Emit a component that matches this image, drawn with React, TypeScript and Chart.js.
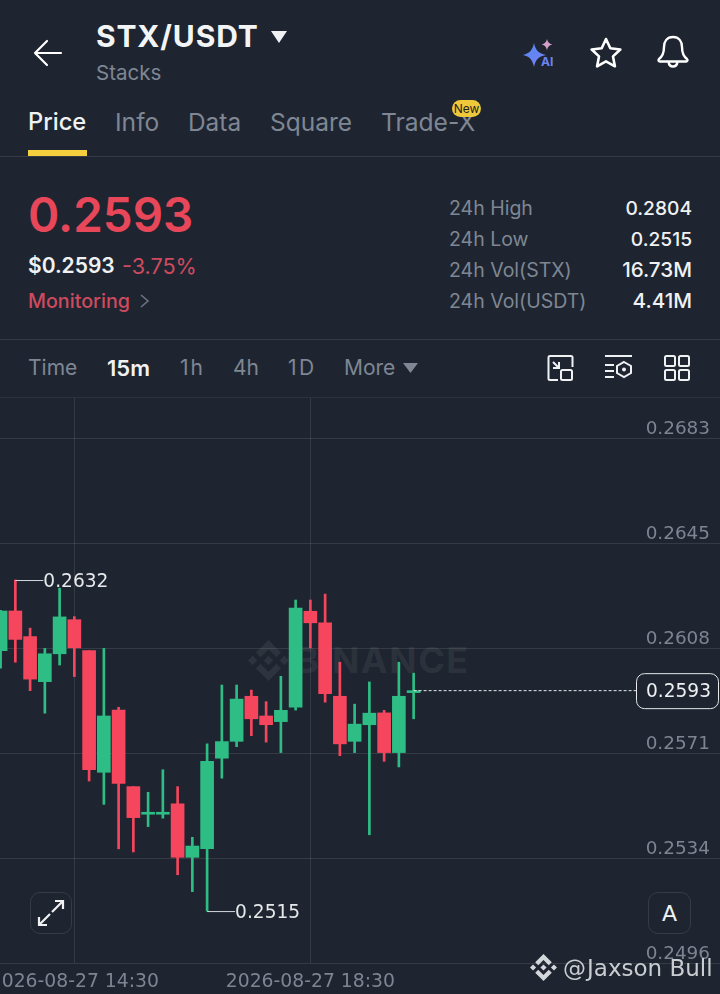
import React, { useEffect, useRef } from "react";
import { Chart, registerables } from "chart.js";

Chart.register(...registerables);

const opens = [0.26072,0.26213,0.26122,0.25962,0.26061,0.26182,0.26072,0.2564,0.25861,0.25589,0.25491,0.25491,0.25528,0.25338,0.25369,0.2569,0.2575,0.2591,0.2584,0.2582,0.25871,0.26212,0.26171,0.2591,0.2575,0.25809,0.25851,0.2571,0.25923];
const highs = [0.26215,0.26323,0.26152,0.2608,0.26294,0.26193,0.26072,0.2608,0.25871,0.25589,0.25569,0.25649,0.25589,0.25409,0.25741,0.2595,0.2595,0.25932,0.25891,0.25981,0.26252,0.26252,0.26273,0.26031,0.25882,0.25961,0.2586,0.26031,0.25992];
const lows = [0.2601,0.26031,0.2593,0.2585,0.26021,0.2598,0.25609,0.25526,0.25368,0.25357,0.25447,0.25477,0.25276,0.25216,0.25147,0.25619,0.25731,0.2577,0.25747,0.2571,0.25861,0.26082,0.25889,0.25699,0.2571,0.25418,0.25679,0.25659,0.2583];
const closes = [0.26213,0.26112,0.25971,0.26061,0.26192,0.26082,0.25649,0.2584,0.256,0.25479,0.25498,0.25498,0.25338,0.25378,0.25679,0.25749,0.259,0.2583,0.25809,0.2586,0.26223,0.26171,0.25919,0.25741,0.25811,0.2585,0.2571,0.2591,0.2593];

const yTickValues = [0.268275, 0.264545, 0.260815, 0.257085, 0.253355, 0.249625];
const xTickPositions = [5, 21];
const xTickLabels = ["2026-08-27 14:30", "2026-08-27 18:30"];
const lastPrice = 0.2593;

const GREEN = "#2ebd85";
const RED = "#f6465d";
const BG = "#1e2530";
const GRID = "rgba(255,255,255,0.10)";
const AXIS_TEXT = "#7d8592";
const UI = "Inter, 'Noto Sans', sans-serif";
const AXIS_FONT = "'DejaVu Sans'";
const MUTED = "#7f8794";
const SOFT_RED = "#cf4a5f";

const annotations = {
  id: "annotations",
  afterDatasetsDraw(chart: any) {
    const { ctx, scales } = chart;
    const xs = scales.x;
    const ys = scales.y;
    ctx.save();
    ctx.font = `18.6px ${AXIS_FONT}`;
    ctx.textBaseline = "middle";
    const hi = Math.max(...highs);
    const lo = Math.min(...lows);
    const marks = [
      { v: hi, i: highs.indexOf(hi) },
      { v: lo, i: lows.indexOf(lo) },
    ];
    for (const m of marks) {
      const px = xs.getPixelForValue(m.i);
      const py = ys.getPixelForValue(m.v);
      ctx.strokeStyle = "#d5d8dc";
      ctx.lineWidth = 1;
      ctx.beginPath();
      ctx.moveTo(px, py + 0.5);
      ctx.lineTo(px + 28, py + 0.5);
      ctx.stroke();
      ctx.fillStyle = "#e6e8ea";
      ctx.textAlign = "left";
      ctx.fillText(m.v.toFixed(4), px + 28, py + 2.5);
    }
    const py = ys.getPixelForValue(lastPrice);
    const x0 = xs.getPixelForValue(closes.length - 1);
    ctx.strokeStyle = "#e6e8ea";
    ctx.setLineDash([3, 2]);
    ctx.beginPath();
    ctx.moveTo(x0, py);
    ctx.lineTo(636, py);
    ctx.stroke();
    ctx.setLineDash([]);
    ctx.fillStyle = BG;
    ctx.strokeStyle = "#e6e8ea";
    ctx.beginPath();
    ctx.roundRect(636.5, py - 17, 82, 35, 8);
    ctx.fill();
    ctx.stroke();
    ctx.fillStyle = "#eef0f2";
    ctx.textAlign = "right";
    ctx.fillText(lastPrice.toFixed(4), 711, py + 2);
    ctx.restore();
  },
};

function T({ x, y, size, color, weight = 400, right, font = UI, spacing, children }: any) {
  const style: React.CSSProperties = {
    position: "absolute",
    top: y - 40,
    lineHeight: "80px",
    fontSize: size,
    fontWeight: weight,
    fontFamily: font,
    color,
    whiteSpace: "nowrap",
    letterSpacing: spacing,
  };
  if (right) style.right = 720 - x;
  else style.left = x;
  return <div style={style}>{children}</div>;
}

function Svg({ x, y, w, h, vb, children }: any) {
  return (
    <svg
      style={{ position: "absolute", left: x, top: y }}
      width={w}
      height={h}
      viewBox={vb || `0 0 ${w} ${h}`}
      fill="none"
    >
      {children}
    </svg>
  );
}

const LOGO =
  "M9.785 13.446 16 7.231l6.217 6.217 3.616-3.616L16 0 6.169 9.83l3.616 3.616zM0 16l3.616-3.617L7.232 16l-3.617 3.616L0 16zm9.785 2.554L16 24.769l6.217-6.217 3.618 3.613-.002.002L16 32l-9.83-9.83-.005-.005 3.62-3.611zM24.769 16.002l3.616-3.617L32 16l-3.616 3.616-3.615-3.614zM19.667 15.998h.001V16L16 19.668l-3.663-3.663-.006-.006.006-.005.641-.642.312-.312L16 12.333l3.668 3.665z";

function Rule({ y, color = "#353b46" }: any) {
  return <div style={{ position: "absolute", left: 0, top: y, width: 720, height: 1, background: color }} />;
}

export default function App() {
  const ref = useRef<HTMLCanvasElement>(null);
  useEffect(() => {
    document.body.style.margin = "0";
    document.body.style.background = BG;
    const idx = opens.map((_, i) => i);
    const colors = idx.map((i) => (closes[i] >= opens[i] ? GREEN : RED));
    const chart = new Chart(ref.current as HTMLCanvasElement, {
      type: "bar",
      data: {
        datasets: [
          {
            label: "Body",
            data: idx.map((i) => ({ x: i, y: [opens[i], closes[i]] })) as any,
            backgroundColor: colors,
            barThickness: 13,
            grouped: false,
            borderWidth: 0,
          } as any,
          {
            label: "Wick",
            data: idx.map((i) => ({ x: i, y: [lows[i], highs[i]] })) as any,
            backgroundColor: colors,
            barThickness: 2,
            grouped: false,
            borderWidth: 0,
          } as any,
        ],
      },
      plugins: [annotations],
      options: {
        animation: false,
        responsive: false,
        layout: { padding: 0 },
        plugins: { legend: { display: false }, tooltip: { enabled: false } },
        scales: {
          x: {
            type: "linear",
            offset: false,
            min: -0.0407,
            max: 48.77,
            border: { display: false },
            grid: { color: GRID, offset: false, drawTicks: false },
            afterBuildTicks(s: any) {
              s.ticks = xTickPositions.map((value) => ({ value }));
            },
            afterFit(s: any) {
              s.height = 31;
              s.paddingLeft = 0;
              s.paddingRight = 0;
            },
            ticks: {
              autoSkip: false,
              maxRotation: 0,
              padding: 8,
              color: AXIS_TEXT,
              font: { family: AXIS_FONT, size: 18.8 },
              callback: (v: any) => xTickLabels[xTickPositions.indexOf(Number(v))] ?? "",
            },
          },
          y: {
            type: "linear",
            position: "right",
            min: 0.249625,
            max: 0.269696,
            border: { display: false },
            grid: { color: GRID, drawTicks: false },
            afterBuildTicks(s: any) {
              s.ticks = yTickValues.map((value) => ({ value }));
            },
            afterFit(s: any) {
              s.width = 0;
              s.paddingTop = 0;
              s.paddingBottom = 0;
            },
            ticks: {
              mirror: true,
              padding: -10,
              color: AXIS_TEXT,
              font: { family: AXIS_FONT, size: 18.4, lineHeight: 1 },
              callback: (v: any) => [Number(v).toFixed(4), ""],
            },
          },
        },
      },
    } as any);
    return () => chart.destroy();
  }, []);

  return (
    <div style={{ position: "absolute", left: 0, top: 0, width: 720, height: 994, background: BG, overflow: "hidden" }}>
      <Svg x={32} y={38} w={32} h={30}>
        <path d="M29 15H3M15 3 3 15l12 12" stroke="#fff" strokeWidth="2.200" strokeLinecap="round" strokeLinejoin="round" />
      </Svg>
      <T x={96} y={36} size={30} weight={700} color="#f3f4f6" spacing={0.85}>STX/USDT</T>
      <Svg x={270} y={30} w={18} h={14}><path d="M1 1h16l-8 12z" fill="#f0f1f3" /></Svg>
      <T x={96} y={73} size={20.5} color={MUTED}>Stacks</T>

      <Svg x={522} y={38} w={34} h={30}>
        <defs>
          <linearGradient id="ai" x1="0" y1="0" x2="1" y2="1">
            <stop offset="0" stopColor="#4f8df5" />
            <stop offset="1" stopColor="#7b7cf0" />
          </linearGradient>
        </defs>
        <path d="M12 5c1.500 7 4 10 12 12-8 1.500-10.500 5-12 12-1.500-7-4-10.500-11-12 7-2 9.500-5 11-12z" fill="url(#ai)" />
        <path d="M25 1c.6 3 2 4.600 5.500 5.500C27 7.400 25.600 9 25 12.500 24.400 9 23 7.400 19.500 6.500 23 5.600 24.400 4 25 1z" fill="#d5a0c8" />
        <text x="19" y="28" fontSize="12" fontWeight="700" fontFamily="Inter" fill="#6d84f0">AI</text>
      </Svg>
      <Svg x={589} y={36} w={34} h={32}>
        <path d="M17 3l4.300 9.200 10 1.300-7.300 6.900 1.900 9.900L17 25.400 8.100 30.300 10 20.400 2.700 13.500l10-1.300z" stroke="#fff" strokeWidth="2.600" strokeLinejoin="round" />
      </Svg>
      <Svg x={656} y={34} w={34} h={36}>
        <path d="M17 3c-6 0-9 4.500-9 10 0 6-1 9-5 12-1 1-.5 2.500 1 2.500h26c1.500 0 2-1.500 1-2.500-4-3-5-6-5-12 0-5.500-3-10-9-10z" stroke="#fff" strokeWidth="2.400" strokeLinejoin="round" />
        <path d="M12.500 28c.5 3 2.300 4.500 4.500 4.500s4-1.500 4.500-4.500" stroke="#fff" strokeWidth="2.400" />
      </Svg>

      <T x={28} y={122} size={23.7} weight={500} color="#f0f1f3">Price</T>
      <T x={115} y={122} size={24.6} color={MUTED}>Info</T>
      <T x={188} y={122} size={24.4} color={MUTED}>Data</T>
      <T x={270} y={122} size={24.5} color={MUTED}>Square</T>
      <T x={381} y={122} size={24.6} color={MUTED}>Trade-X</T>
      <div style={{ position: "absolute", left: 28, top: 150, width: 59, height: 6, background: "#f5cf3d" }} />
      <div style={{ position: "absolute", left: 452, top: 100, width: 29, height: 17, borderRadius: 9, background: "#f0c93a", textAlign: "center", fontFamily: UI, fontSize: 12, lineHeight: "17px", color: "#222" }}>New</div>
      <Rule y={156} />

      <T x={28} y={215} size={47.5} weight={600} color="#e8475a">0.2593</T>
      <T x={28} y={266} size={21} weight={600} color="#f0f1f3">$0.2593</T>
      <T x={122} y={266} size={21.6} color={SOFT_RED}>-3.75%</T>
      <T x={28} y={301} size={19.7} weight={500} color={SOFT_RED}>Monitoring</T>
      <Svg x={139} y={293} w={12} h={16}><path d="M2 2l7 6-7 6" stroke="#6d7480" strokeWidth="1.600" /></Svg>

      <T x={449} y={208} size={19.5} color={MUTED}>24h High</T>
      <T x={449} y={239} size={19.5} color={MUTED}>24h Low</T>
      <T x={449} y={270} size={19.5} color={MUTED}>24h Vol(STX)</T>
      <T x={449} y={301} size={19.5} color={MUTED}>24h Vol(USDT)</T>
      <T x={692} y={208} size={19.2} weight={500} right color="#f0f1f3">0.2804</T>
      <T x={692} y={239} size={19.2} weight={500} right color="#f0f1f3">0.2515</T>
      <T x={692} y={270} size={20.6} weight={500} right color="#f0f1f3">16.73M</T>
      <T x={692} y={301} size={20.6} weight={500} right color="#f0f1f3">4.41M</T>
      <Rule y={339} />

      <T x={28} y={368} size={21} color={MUTED}>Time</T>
      <T x={107} y={368} size={22} weight={600} color="#f0f1f3">15m</T>
      <T x={180} y={368} size={21} color={MUTED} spacing={2}>1h</T>
      <T x={233} y={368} size={21} color={MUTED}>4h</T>
      <T x={288} y={368} size={21} color={MUTED} spacing={2.5}>1D</T>
      <T x={344} y={368} size={21} color={MUTED}>More</T>
      <Svg x={402} y={362} w={17} h={12}><path d="M1 1h15l-7.500 10z" fill={MUTED} /></Svg>

      <Svg x={547} y={354} w={28} h={28}>
        <path d="M12 2H3a1.500 1.500 0 0 0-1.500 1.500v21A1.500 1.500 0 0 0 3 26h8M11 2h13a1.500 1.500 0 0 1 1.500 1.500V13" stroke="#f0f1f3" strokeWidth="2" />
        <rect x="14" y="16" width="11" height="10" rx="1.500" stroke="#f0f1f3" strokeWidth="2" />
        <path d="M6 8l6 6M6 14h6V8" stroke="#f0f1f3" strokeWidth="2" />
      </Svg>
      <Svg x={604} y={354} w={30} h={28}>
        <path d="M1 2h27M1 11h9M1 17h9M1 23h9" stroke="#f0f1f3" strokeWidth="2" />
        <path d="M20 8l7 4v7l-7 4-7-4v-7z" stroke="#f0f1f3" strokeWidth="2" />
        <circle cx="20" cy="15.500" r="2" fill="#f0f1f3" />
      </Svg>
      <Svg x={664} y={355} w={27} h={27}>
        <rect x="1" y="1" width="10" height="10" rx="1.500" stroke="#f0f1f3" strokeWidth="2" />
        <rect x="15" y="1" width="10" height="10" rx="1.500" stroke="#f0f1f3" strokeWidth="2" />
        <rect x="1" y="15" width="10" height="10" rx="1.500" stroke="#f0f1f3" strokeWidth="2" />
        <rect x="15" y="15" width="10" height="10" rx="1.500" stroke="#f0f1f3" strokeWidth="2" />
      </Svg>
      <Rule y={397} color="#2c323c" />

      <Svg x={248} y={640} w={41} h={41} vb="0 0 32 32"><path d={LOGO} fill="rgba(255,255,255,0.07)" /></Svg>
      <T x={295} y={660} size={36} weight={700} color="rgba(255,255,255,0.07)" spacing={1.5}>BINANCE</T>

      <canvas ref={ref} width={720} height={596} style={{ position: "absolute", left: 0, top: 398, display: "block" }} />

      <div style={{ position: "absolute", left: 30, top: 892, width: 40, height: 40, border: "1.500px solid #363c47", borderRadius: 10, background: BG }} />
      <Svg x={37} y={899} w={28} h={28}>
        <path d="M15 13 26 2M18 2h8v8M13 15 2 26M2 18v8h8" stroke="#f0f1f3" strokeWidth="2.200" />
      </Svg>
      <div style={{ position: "absolute", left: 648, top: 892, width: 41, height: 40, border: "1.500px solid #363c47", borderRadius: 10, background: BG, textAlign: "center", fontFamily: AXIS_FONT, fontSize: 22, lineHeight: "42px", color: "#f0f1f3" }}>A</div>

      <Svg x={530} y={954} w={27} h={27} vb="0 0 32 32"><path d={LOGO} fill="#d4d7da" /></Svg>
      <T x={563} y={968} size={23} font={AXIS_FONT} color="#c9ccd0">@</T>
      <T x={587} y={968} size={23} font={AXIS_FONT} color="#c9ccd0">Jaxson Bull</T>
    </div>
  );
}
